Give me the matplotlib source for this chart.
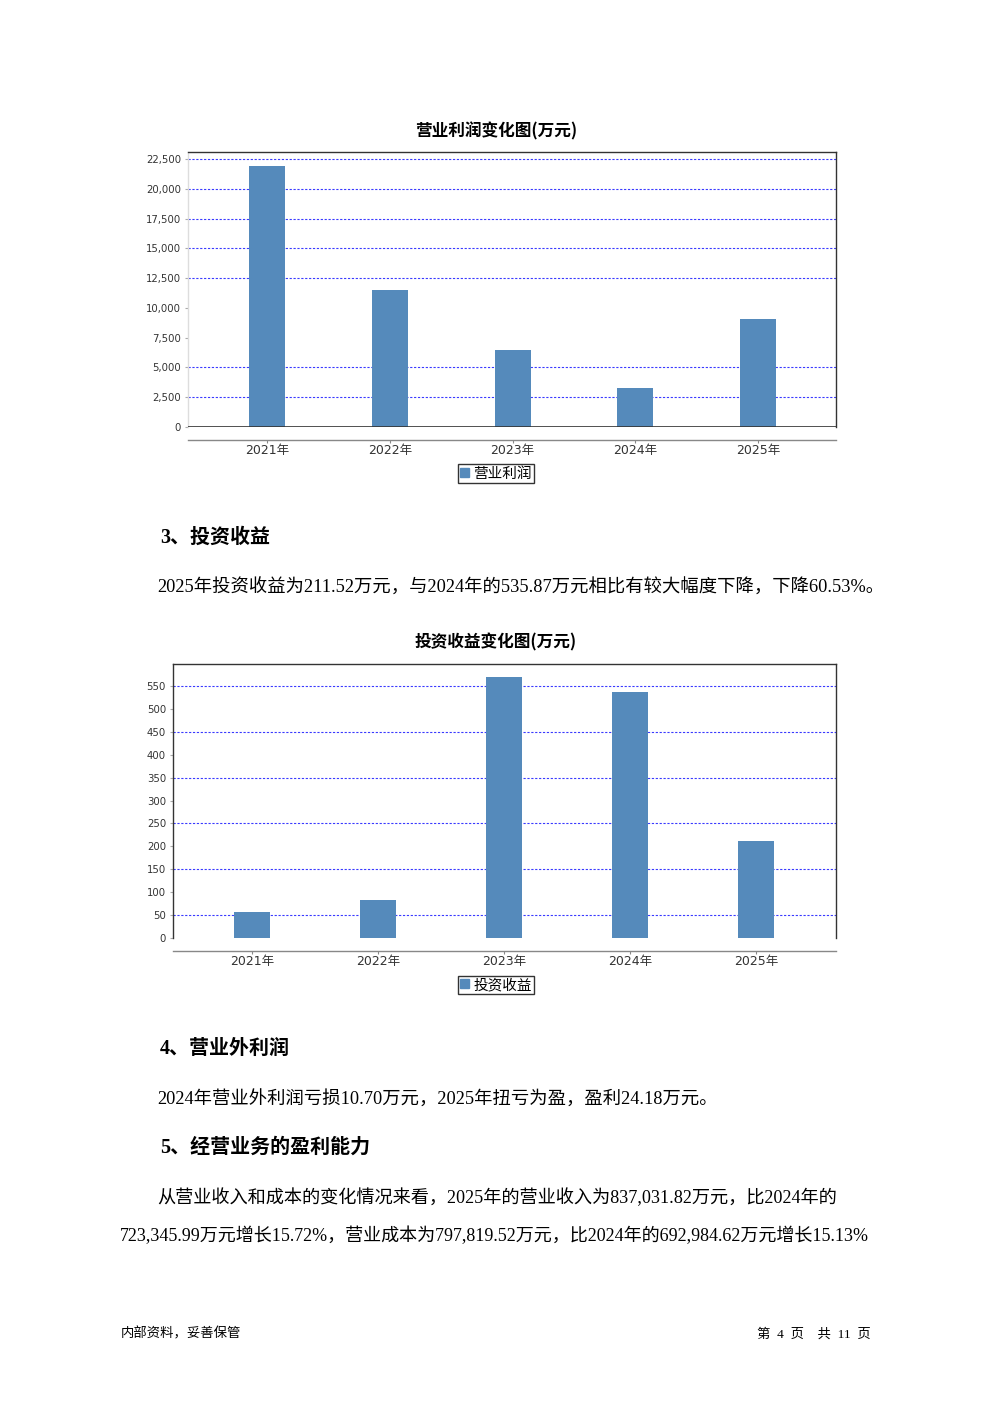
import matplotlib
matplotlib.use('Agg')
import matplotlib.pyplot as plt
from matplotlib.ticker import FuncFormatter
from matplotlib.patches import Patch

plt.rcParams['font.family'] = ['DejaVu Sans', 'Noto Sans CJK SC']

# data
years = ['2021年', '2022年', '2023年', '2024年', '2025年']
op_profit = [21900, 11500, 6470, 3270, 9070]
op_ticks = [0, 2500, 5000, 7500, 10000, 12500, 15000, 17500, 20000, 22500]
op_grid = [2500, 5000, 12500, 15000, 17500, 20000, 22500]

inv_income = [57, 83, 569, 535.87, 211.52]
inv_ticks = [0, 50, 100, 150, 200, 250, 300, 350, 400, 450, 500, 550]
inv_grid = [50, 150, 250, 350, 450, 550]

W, H = 992, 1403
BAR = '#558ABB'
GRID = '#3a3aff'
SERIF = ['Liberation Serif', 'Noto Sans CJK SC']
CJK = ['Noto Sans CJK SC', 'DejaVu Sans']


def px(l, t, r, b):
    return [l / W, 1 - b / H, (r - l) / W, (b - t) / H]


fig = plt.figure(figsize=(W / 100, H / 100), dpi=100)


def bar_chart(rect, values, ticks, grid, ymax, xlim, width, title, title_y,
              label, legend_y, left_color, zero_line):
    ax = fig.add_axes(px(*rect))
    x = range(len(years))
    ax.bar(x, values, width=width, color=BAR, zorder=3)
    for g in grid:
        ax.axhline(g, color=GRID, lw=0.8, ls=(0, (2, 1.5)), zorder=2)
    if zero_line:
        ax.axhline(0, color='#333333', lw=1.2, zorder=4)
    ax.set_ylim(0, ymax)
    ax.set_xlim(*xlim)
    ax.set_yticks(ticks)
    ax.yaxis.set_major_formatter(FuncFormatter(lambda v, p: f'{int(v):,}'))
    ax.set_xticks(list(x))
    ax.set_xticklabels(years)
    ax.tick_params(axis='y', labelsize=7.3, length=2, color='#aaaaaa',
                   labelcolor='#333333', pad=3)
    ax.tick_params(axis='x', labelsize=9, length=2, color='#888888',
                   labelcolor='#333333', pad=1.5)
    for s in ['top', 'right']:
        ax.spines[s].set_color('#333333')
        ax.spines[s].set_linewidth(1.0)
    ax.spines['left'].set_color(left_color)
    ax.spines['left'].set_linewidth(1.0)
    ax.spines['bottom'].set_position(('outward', 9))
    ax.spines['bottom'].set_color('#888888')
    ax.spines['bottom'].set_linewidth(1.0)
    fig.text(496 / W, 1 - title_y / H, title, ha='center', va='center',
             fontsize=12, fontweight='bold', family=CJK)
    fig.legend(handles=[Patch(color=BAR, label=label)], loc='center',
               bbox_to_anchor=(496 / W, 1 - legend_y / H),
               frameon=True, fancybox=False, edgecolor='black',
               handlelength=0.6, handleheight=0.6, handletextpad=0.3,
               borderpad=0.15, borderaxespad=0, prop={'family': CJK, 'size': 10.5})
    return ax


bar_chart((188, 152, 836, 427), op_profit, op_ticks, op_grid, 23090,
          (-0.644, 4.635), 0.293, '营业利润变化图(万元)', 131, '营业利润', 473.5,
          '#dddddd', True)
bar_chart((173, 664, 836, 938), inv_income, inv_ticks, inv_grid, 598,
          (-0.627, 4.635), 0.286, '投资收益变化图(万元)', 642, '投资收益', 985,
          '#333333', False)

# text of the page
fig.text(160 / W, 1 - 538 / H, '3、投资收益', fontsize=14.4, fontweight='bold',
         family=SERIF, va='center')
fig.text(157 / W, 1 - 588 / H,
         '2025年投资收益为211.52万元，与2024年的535.87万元相比有较大幅度下降，下降60.53%。',
         fontsize=13.2, family=SERIF, va='center')
fig.text(160 / W, 1 - 1049 / H, '4、营业外利润', fontsize=14.4, fontweight='bold',
         family=SERIF, va='center')
fig.text(157 / W, 1 - 1100 / H,
         '2024年营业外利润亏损10.70万元，2025年扭亏为盈，盈利24.18万元。',
         fontsize=13.2, family=SERIF, va='center')
fig.text(160 / W, 1 - 1148 / H, '5、经营业务的盈利能力', fontsize=14.4,
         fontweight='bold', family=SERIF, va='center')
fig.text(157 / W, 1 - 1198 / H,
         '从营业收入和成本的变化情况来看，2025年的营业收入为837,031.82万元，比2024年的',
         fontsize=13.1, family=SERIF, va='center')
fig.text(120 / W, 1 - 1236 / H,
         '723,345.99万元增长15.72%，营业成本为797,819.52万元，比2024年的692,984.62万元增长15.13%',
         fontsize=13.0, family=SERIF, va='center')

fig.text(121 / W, 1 - 1334 / H, '内部资料，妥善保管', fontsize=9.6, family=SERIF,
         va='center')
fig.text(871 / W, 1 - 1334 / H, '第  4  页    共  11  页', fontsize=9.6, family=SERIF,
         va='center', ha='right')

fig.savefig('out.png', dpi=100)
